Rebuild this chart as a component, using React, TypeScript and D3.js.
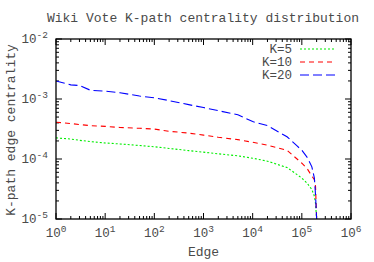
import React from "react";
import * as d3 from "d3";

const title = "Wiki Vote K-path centrality distribution";
const xLabel = "Edge";
const yLabel = "K-path edge centrality";
const seriesNames = ["K=5", "K=10", "K=20"];
const xTickExps = [0, 1, 2, 3, 4, 5, 6];
const yTickExps = [-5, -4, -3, -2];

const edges = [1, 2, 3, 5, 10, 20, 50, 100, 200, 500, 1000, 2000, 5000, 10000, 20000, 50000, 80000, 100000, 130000, 160000, 180000, 190000, 200000];
const k5 = [2.25e-4, 2.15e-4, 2.05e-4, 1.95e-4, 1.85e-4, 1.78e-4, 1.68e-4, 1.6e-4, 1.5e-4, 1.38e-4, 1.3e-4, 1.22e-4, 1.13e-4, 1.03e-4, 9.2e-5, 7.2e-5, 5.5e-5, 4.8e-5, 3.9e-5, 3.1e-5, 2.4e-5, 1.8e-5, 1.0e-5];
const k10 = [4.1e-4, 3.9e-4, 3.75e-4, 3.6e-4, 3.5e-4, 3.35e-4, 3.25e-4, 3.15e-4, 2.9e-4, 2.7e-4, 2.5e-4, 2.3e-4, 2.1e-4, 1.9e-4, 1.7e-4, 1.4e-4, 1.0e-4, 8.5e-5, 6.8e-5, 5.2e-5, 4.5e-5, 3.5e-5, 1.0e-5];
const k20 = [2.0e-3, 1.72e-3, 1.68e-3, 1.4e-3, 1.35e-3, 1.27e-3, 1.12e-3, 1.05e-3, 9.4e-4, 8.05e-4, 7.2e-4, 6.4e-4, 5.45e-4, 4.2e-4, 3.6e-4, 2.35e-4, 1.65e-4, 1.4e-4, 1.05e-4, 7.4e-5, 4.8e-5, 2.5e-5, 1.0e-5];

const seriesValues = [k5, k10, k20];
const colors = ["#00ee00", "#ff0000", "#0000ff"];
const dashes = ["2,2", "5,4", "9,4"];

const W = 374, H = 262;
const L = 56, R = 351, T = 39, B = 219;
const font = "'Liberation Mono', 'DejaVu Sans Mono', monospace";
const textColor = "#4a4a4a";

export default function App() {
  const x = d3.scaleLog().domain([1, 1e6]).range([L, R]);
  const y = d3.scaleLog().domain([1e-5, 1e-2]).range([B, T]).clamp(true);
  const line = d3.line<number>().x((_, i) => x(edges[i])).y((d) => y(d));

  const xMinor: number[] = [];
  for (let e = 0; e < 6; e++) for (let m = 2; m <= 9; m++) xMinor.push(m * Math.pow(10, e));
  const yMinor: number[] = [];
  for (let e = -5; e < -2; e++) for (let m = 2; m <= 9; m++) yMinor.push(m * Math.pow(10, e));

  return (
    <svg width={W} height={H} style={{ position: "absolute", left: 0, top: 0, background: "#fff" }} fontFamily={font}>
      <text x={203} y={22} textAnchor="middle" fontSize={13} fill={textColor}>{title}</text>
      <defs>
        <clipPath id="plot"><rect x={L} y={T} width={R - L} height={B - T} /></clipPath>
      </defs>
      <g stroke="#000" strokeWidth={1}>
        {xTickExps.map((e) => {
          const px = x(Math.pow(10, e));
          return <g key={"xt" + e}><line x1={px} x2={px} y1={B} y2={B - 6} /><line x1={px} x2={px} y1={T} y2={T + 6} /></g>;
        })}
        {xMinor.map((v, i) => {
          const px = x(v);
          return <g key={"xm" + i}><line x1={px} x2={px} y1={B} y2={B - 3} /><line x1={px} x2={px} y1={T} y2={T + 3} /></g>;
        })}
        {yTickExps.map((e) => {
          const py = y(Math.pow(10, e));
          return <g key={"yt" + e}><line x1={L} x2={L + 6} y1={py} y2={py} /><line x1={R} x2={R - 6} y1={py} y2={py} /></g>;
        })}
        {yMinor.map((v, i) => {
          const py = y(v);
          return <g key={"ym" + i}><line x1={L} x2={L + 3} y1={py} y2={py} /><line x1={R} x2={R - 3} y1={py} y2={py} /></g>;
        })}
      </g>
      <g clipPath="url(#plot)">
        {seriesValues.map((vals, i) => (
          <path key={"s" + i} d={line(vals) || ""} fill="none" stroke={colors[i]} strokeWidth={1.1} strokeDasharray={dashes[i]} />
        ))}
      </g>
      <rect x={L} y={T} width={R - L} height={B - T} fill="none" stroke="#000" strokeWidth={1.3} />
      {xTickExps.map((e) => (
        <text key={"xl" + e} x={x(Math.pow(10, e))} y={237} textAnchor="middle" fontSize={12.5} fill={textColor}>
          10<tspan fontSize={9.5} dy={-5}>{e}</tspan>
        </text>
      ))}
      {yTickExps.map((e) => (
        <text key={"yl" + e} x={48} y={y(Math.pow(10, e)) + 4} textAnchor="end" fontSize={12.5} fill={textColor}>
          10<tspan fontSize={9.5} dy={-5}>{e}</tspan>
        </text>
      ))}
      <text x={(L + R) / 2} y={256} textAnchor="middle" fontSize={13} fill={textColor}>{xLabel}</text>
      <text transform={`translate(15,${(T + B) / 2 + 1}) rotate(-90)`} textAnchor="middle" fontSize={13} fill={textColor}>{yLabel}</text>
      {seriesNames.map((n, i) => (
        <g key={"lg" + i}>
          <text x={292} y={53 + i * 13} textAnchor="end" fontSize={12.5} fill={textColor}>{n}</text>
          <line x1={300} x2={335} y1={49 + i * 13} y2={49 + i * 13} stroke={colors[i]} strokeWidth={1.1} strokeDasharray={dashes[i]} />
        </g>
      ))}
    </svg>
  );
}
